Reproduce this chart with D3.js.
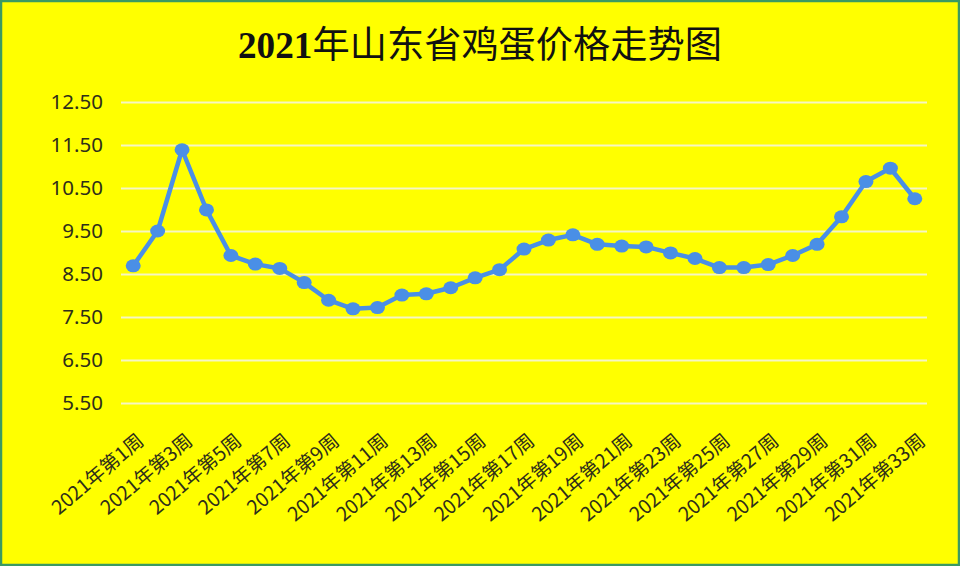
<!DOCTYPE html>
<html>
<head>
<meta charset="utf-8">
<script src="https://cdn.jsdelivr.net/npm/d3@7"></script>
<style>
  html, body { margin: 0; padding: 0; background: #ffff00; }
  svg { display: block; }
</style>
</head>
<body>
<svg id="chart" width="960" height="566"></svg>
<script>
// ---- data ----
const weeks = d3.range(1, 34).map(n => `2021年第${n}周`);
const prices = [8.69, 9.50, 11.39, 9.99, 8.93, 8.73, 8.63, 8.30, 7.89, 7.69,
                7.72, 8.01, 8.04, 8.18, 8.41, 8.60, 9.08, 9.29, 9.41, 9.19,
                9.15, 9.13, 8.99, 8.86, 8.65, 8.65, 8.72, 8.93, 9.19, 9.83,
                10.65, 10.96, 10.25];
const yTicks = [5.5, 6.5, 7.5, 8.5, 9.5, 10.5, 11.5, 12.5];
const title = "2021年山东省鸡蛋价格走势图";

// ---- layout ----
const W = 960, H = 566;
const plot = { left: 121, right: 927, top: 102, bottom: 403 };
const svg = d3.select("#chart");

svg.append("rect").attr("x", 0).attr("y", 0).attr("width", W).attr("height", H)
  .attr("fill", "#ffff00");

const x = d3.scaleBand().domain(weeks).range([plot.left, plot.right]).padding(0);
const y = d3.scaleLinear().domain([5.5, 12.5]).range([plot.bottom, plot.top]);
const cx = d => x(d) + x.bandwidth() / 2;

// gridlines
const yAxis = d3.axisLeft(y).tickValues(yTicks).tickFormat(d3.format(".2f"))
  .tickSize(-(plot.right - plot.left)).tickPadding(18);
const gy = svg.append("g").attr("transform", `translate(${plot.left},0)`).call(yAxis);
gy.select(".domain").remove();
gy.selectAll(".tick line").attr("stroke", "#f6f6c4").attr("stroke-width", 2);
gy.selectAll(".tick text").attr("fill", "#2e2e1a")
  .style("font-family", "'Noto Sans', 'Open Sans', sans-serif").style("font-size", "20.5px");

// x axis labels (every other)
const xAxis = d3.axisBottom(x).tickValues(weeks.filter((d, i) => i % 2 === 0)).tickSize(0);
const gx = svg.append("g").attr("transform", `translate(0,${plot.bottom})`).call(xAxis);
gx.select(".domain").remove();
gx.selectAll(".tick text")
  .attr("text-anchor", "end")
  .attr("x", 0).attr("y", 0).attr("dy", 0)
  .attr("transform", "translate(12,40) rotate(-40)")
  .attr("fill", "#2e2e1a")
  .style("font-family", "'Noto Sans CJK SC', 'Noto Sans', sans-serif")
  .style("font-size", "19.5px");

// line
const line = d3.line().x((d, i) => cx(weeks[i])).y(d => y(d));
svg.append("path").datum(prices).attr("d", line)
  .attr("fill", "none").attr("stroke", "#4a8fe6").attr("stroke-width", 4.5)
  .attr("stroke-linejoin", "round");

svg.append("g").selectAll("ellipse").data(prices).join("ellipse")
  .attr("cx", (d, i) => cx(weeks[i])).attr("cy", d => y(d))
  .attr("rx", 7.5).attr("ry", 6.5)
  .attr("fill", "#4a8fe6");

// title
const t = svg.append("text")
  .attr("x", 238).attr("y", 58)
  .attr("textLength", 484).attr("lengthAdjust", "spacingAndGlyphs")
  .attr("fill", "#111")
  .style("font-size", "37px");
t.append("tspan").style("font-family", "'Liberation Serif', serif").style("font-weight", "bold").text(title.slice(0, 4));
t.append("tspan").style("font-family", "'Noto Sans CJK SC', sans-serif").text(title.slice(4));

// border
svg.append("rect").attr("x", 1).attr("y", 1).attr("width", W - 2).attr("height", H - 2)
  .attr("fill", "none").attr("stroke", "#3a9a62").attr("stroke-width", 2.5);
</script>
</body>
</html>
